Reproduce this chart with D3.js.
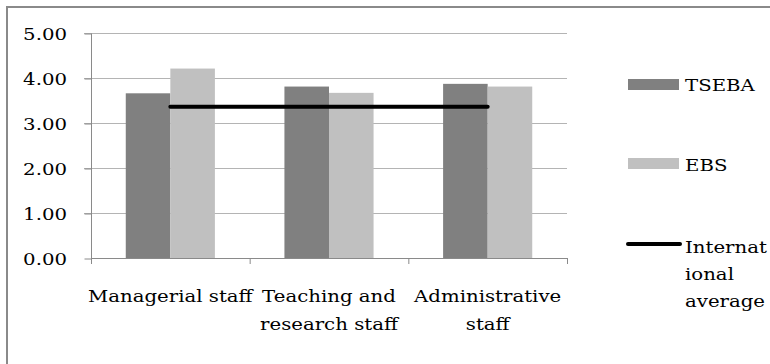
<!DOCTYPE html>
<html>
<head>
<meta charset="utf-8">
<script src="https://cdn.jsdelivr.net/npm/d3@7"></script>
<style>
  html, body { margin: 0; padding: 0; background: #fff; }
  svg { display: block; }
</style>
</head>
<body>
<svg id="chart" width="770" height="364"></svg>
<script>
// Chart data
const categories = [["Managerial staff"], ["Teaching and", "research staff"], ["Administrative", "staff"]];
const seriesNames = ["TSEBA", "EBS"];
const tsebaValues = [3.66, 3.81, 3.87];
const ebsValues = [4.21, 3.67, 3.81];
const internationalAverage = [3.36, 3.36, 3.36];
const yTicks = [0, 1, 2, 3, 4, 5];
const legendLabels = ["TSEBA", "EBS", ["Internat", "ional", "average"]];

const colors = { TSEBA: "#808080", EBS: "#c0c0c0" };
const stretch = 1.16;   // horizontally widened lettering
const fontSize = 17;
const fontFamily = "'DejaVu Serif', serif";

const svg = d3.select("#chart");

// Outer frame (runs off the right and bottom edges)
svg.append("rect")
  .attr("x", 7).attr("y", 7).attr("width", 800).attr("height", 400)
  .attr("fill", "none").attr("stroke", "#8a8a8a").attr("stroke-width", 2);

const plot = { left: 91, right: 567, top: 33, bottom: 258 };
const catKeys = categories.map(c => c.join(" "));

const x0 = d3.scaleBand().domain(catKeys).range([plot.left, plot.right]).paddingInner(0).paddingOuter(0);
const x1 = d3.scaleBand().domain(seriesNames).range([0, x0.bandwidth()]).paddingInner(0).paddingOuter(0.78);
const y = d3.scaleLinear().domain([0, 5]).range([plot.bottom, plot.top]);

function stretchedText(g, x, yPos, str, anchor) {
  return g.append("text")
    .attr("transform", `translate(${x},${yPos}) scale(${stretch},1)`)
    .attr("text-anchor", anchor)
    .attr("font-family", fontFamily)
    .attr("font-size", fontSize)
    .attr("fill", "#000")
    .text(str);
}

// Horizontal gridlines
svg.append("g").selectAll("line").data(yTicks.filter(d => d > 0)).join("line")
  .attr("x1", plot.left - 7).attr("x2", plot.right)
  .attr("y1", d => y(d) + 0.5).attr("y2", d => y(d) + 0.5)
  .attr("stroke", "#b4b4b4").attr("stroke-width", 1.2);

// Bars
const data = catKeys.map((k, i) => ({ key: k, TSEBA: tsebaValues[i], EBS: ebsValues[i] }));
const groups = svg.append("g").selectAll("g").data(data).join("g")
  .attr("transform", d => `translate(${x0(d.key)},0)`);
groups.selectAll("rect").data(d => seriesNames.map(s => ({ s, v: d[s] }))).join("rect")
  .attr("x", d => x1(d.s)).attr("width", x1.bandwidth())
  .attr("y", d => y(d.v)).attr("height", d => y(0) - y(d.v))
  .attr("fill", d => colors[d.s]);

// Axes
const yAxis = d3.axisLeft(y).tickValues(yTicks).tickSize(7).tickFormat("");
const yg = svg.append("g").attr("transform", `translate(${plot.left + 0.5},0.5)`).call(yAxis);
yg.select(".domain").attr("d", `M0,${plot.top}V${plot.bottom + 5}`);
yg.selectAll("line").attr("stroke", "#8a8a8a");
yg.select(".domain").attr("stroke", "#8a8a8a");

const xBoundaries = [plot.left].concat(catKeys.map(k => x0(k) + x0.bandwidth()));
const xg = svg.append("g");
xg.append("line").attr("x1", plot.left).attr("x2", plot.right)
  .attr("y1", plot.bottom + 0.5).attr("y2", plot.bottom + 0.5)
  .attr("stroke", "#8a8a8a");
xg.selectAll("line.tick").data(xBoundaries).join("line").attr("class", "tick")
  .attr("x1", d => d + 0.5).attr("x2", d => d + 0.5)
  .attr("y1", plot.bottom).attr("y2", plot.bottom + 6)
  .attr("stroke", "#8a8a8a");

// Y tick labels
const fmt = d3.format(".2f");
yTicks.forEach(t => stretchedText(svg, 67, y(t) + 6.5, fmt(t), "end"));

// Category labels
categories.forEach((lines, i) => {
  const cx = x0(catKeys[i]) + x0.bandwidth() / 2;
  lines.forEach((ln, j) => stretchedText(svg, cx, 302 + j * 28, ln, "middle"));
});

// International average line
const line = d3.line()
  .x((d, i) => x0(catKeys[i]) + x0.bandwidth() / 2)
  .y(d => y(d));
svg.append("path").datum(internationalAverage)
  .attr("d", line).attr("fill", "none")
  .attr("stroke", "#000").attr("stroke-width", 4).attr("stroke-linecap", "round");

// Legend
const lg = svg.append("g");
lg.append("rect").attr("x", 628).attr("y", 79).attr("width", 51).attr("height", 11).attr("fill", colors.TSEBA);
stretchedText(lg, 685, 91, legendLabels[0], "start");
lg.append("rect").attr("x", 628).attr("y", 158).attr("width", 51).attr("height", 11).attr("fill", colors.EBS);
stretchedText(lg, 685, 171, legendLabels[1], "start");
lg.append("line").attr("x1", 628).attr("x2", 680).attr("y1", 244).attr("y2", 244)
  .attr("stroke", "#000").attr("stroke-width", 4).attr("stroke-linecap", "round");
legendLabels[2].forEach((ln, j) => stretchedText(lg, 685, 253 + j * 27, ln, "start"));
</script>
</body>
</html>
